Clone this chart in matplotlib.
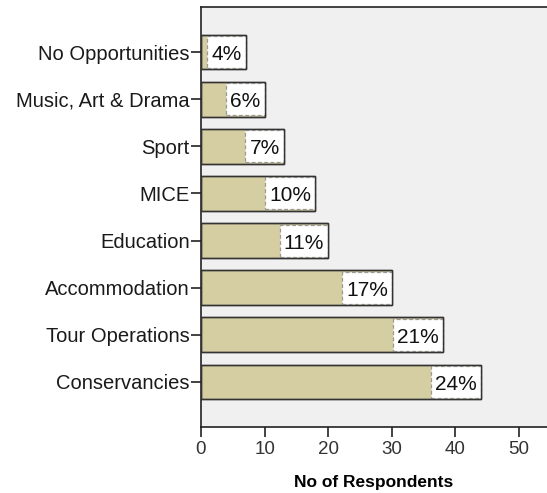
import matplotlib.pyplot as plt
from matplotlib.patches import Rectangle

plt.rcParams['font.family'] = ['Liberation Sans', 'DejaVu Sans']

# Respondents per sector (top to bottom as shown)
categorias = ["No Opportunities", "Music, Art & Drama", "Sport", "MICE",
              "Education", "Accommodation", "Tour Operations", "Conservancies"]
respondentes = [7, 10, 13, 18, 20, 30, 38, 44]
ticks_x = [0, 10, 20, 30, 40, 50]

total = sum(respondentes)
porcentajes = [f"{round(100 * r / total):.0f}%" for r in respondentes]

color_barra = '#d5cea2'
color_fondo = '#f0f0f0'
alto = 0.74

fig = plt.figure(figsize=(5.47, 4.93), dpi=100)
ax = fig.add_axes([201 / 547, 66 / 493, 346 / 547, 420 / 493])
ax.set_facecolor(color_fondo)

# Conservancies at the bottom, No Opportunities at the top
pos = list(range(len(categorias)))[::-1]

ax.barh(pos, respondentes, height=alto, color=color_barra,
        edgecolor='#333333', linewidth=1.0, zorder=2)

ax.set_xlim(0, 346 / 6.36)
ax.set_ylim(-0.955, len(categorias) - 1 + 0.955)

ax.set_yticks(pos)
ax.set_yticklabels(categorias, fontsize=14.5, color='#1a1a1a')
ax.set_xticks(ticks_x)
ax.set_xticklabels([str(t) for t in ticks_x], fontsize=13.5, color='#333333')
ax.tick_params(axis='both', direction='out', length=7, width=1.2, color='#222222')
ax.tick_params(axis='x', pad=3)
ax.tick_params(axis='y', pad=1)

ax.set_xlabel("No of Respondents", fontsize=12.5, fontweight='bold', labelpad=12)

for lado in ['left', 'bottom', 'top']:
    ax.spines[lado].set_color('#222222')
    ax.spines[lado].set_linewidth(1.2)
ax.spines['right'].set_visible(False)

# Percentage labels in white boxes at the end of each bar
fig.canvas.draw()
renderer = fig.canvas.get_renderer()
px_por_unidad = ax.transData.transform((1, 0))[0] - ax.transData.transform((0, 0))[0]
for y, r, etiqueta in zip(pos, respondentes, porcentajes):
    t = ax.text(r, y, etiqueta, fontsize=15, ha='right', va='center_baseline',
                color='#111111', zorder=5)
    ancho_px = t.get_window_extent(renderer).width
    t.set_position((r - 4 / px_por_unidad, y - 0.01))
    ancho = (ancho_px + 8) / px_por_unidad
    caja = Rectangle((r - ancho, y - alto / 2 + 0.03), ancho, alto - 0.06,
                     facecolor='white', edgecolor='#999999', linewidth=0.9,
                     linestyle=(0, (3, 2)), zorder=3)
    ax.add_patch(caja)
    # redraw the bar outline on top of the box
    borde = Rectangle((0, y - alto / 2), r, alto, fill=False,
                      edgecolor='#333333', linewidth=1.0, zorder=4)
    ax.add_patch(borde)

fig.savefig("out.png", dpi=100)
